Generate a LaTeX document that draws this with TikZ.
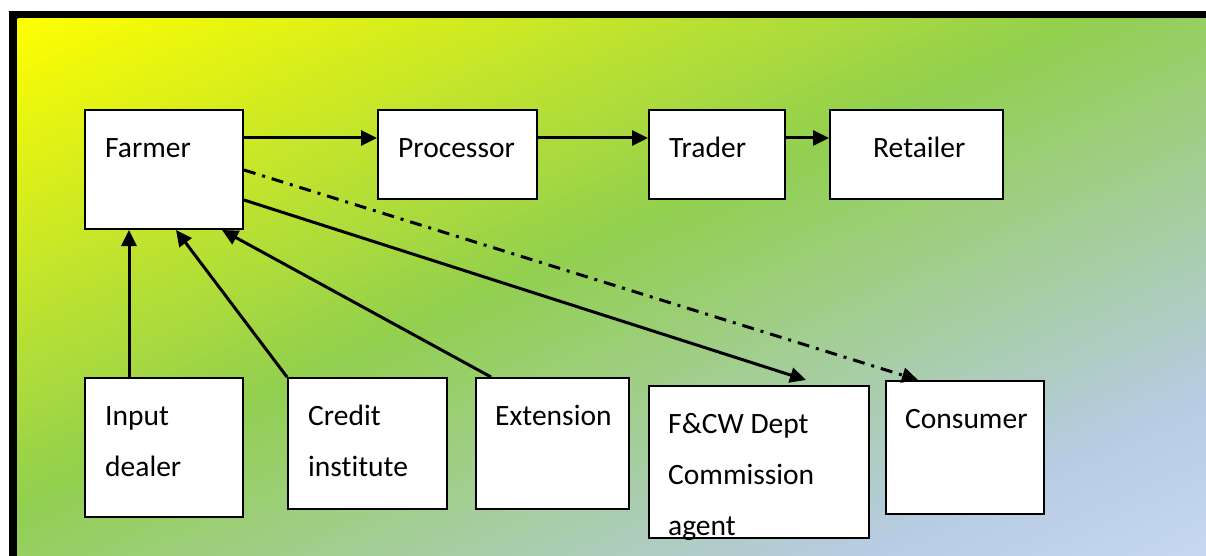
\documentclass[tikz,border=0pt]{standalone}
\usepackage{fontspec}
\setmainfont{Carlito}[Ligatures=NoCommon]
\usetikzlibrary{arrows.meta}
\tikzset{
  box/.style={draw=black, fill=white, line width=2pt, inner sep=0pt, anchor=north west},
  lbl/.style={anchor=base west, inner sep=0pt, align=left, font=\fontsize{29.5}{51}\selectfont},
  conn/.style={line width=3pt, -{Triangle[length=16pt,width=15pt]}},
  dashdotline/.style={conn, dash pattern=on 12pt off 7pt on 3pt off 7pt},
}
% piecewise-linear colour channel: stops at t=0, .45, .85, 1
\newcommand{\gradchan}[6]{% #1 macro, #2 t, #3..#6 values at stops
  \pgfmathtruncatemacro#1{(#2<0.45) ? (#3+(#4-#3)*#2/0.45) : ((#2<0.85) ? (#4+(#5-#4)*(#2-0.45)/0.4) : (#5+(#6-#5)*(#2-0.85)/0.15))}}
\begin{document}
\begin{tikzpicture}[x=1pt,y=-1pt]
\useasboundingbox (0,0) rectangle (1206,556);
\fill[white] (0,0) rectangle (1206,556);
\fill[black] (9,11) rectangle (1206,556);
% diagonal gradient background
\begin{scope}[shift={(17,19)}, x=1189pt, y=-537pt]
  \clip (0,0) rectangle (1,1);
  \foreach \i in {0,...,160} {
    \pgfmathsetmacro\tt{\i/160}
    \pgfmathsetmacro\ss{2*\tt}
    \gradchan{\rr}{\tt}{255}{146}{184}{198}
    \gradchan{\gg}{\tt}{255}{208}{204}{217}
    \gradchan{\bb}{\tt}{0}{80}{228}{240}
    \definecolor{cur}{RGB}{\rr,\gg,\bb}
    \fill[cur] (\ss+1,-1) -- (3,-1) -- (3,3) -- (-1,3) -- (-1,\ss+1) -- cycle;
  }
\end{scope}
% boxes
\node[box, minimum width=158pt, minimum height=119pt] (farmer) at (84,109) {};
\node[box, minimum width=159pt, minimum height=89pt] (processor) at (377,109) {};
\node[box, minimum width=136pt, minimum height=89pt] (trader) at (648,109) {};
\node[box, minimum width=173pt, minimum height=89pt] (retailer) at (829,109) {};
\node[box, minimum width=158pt, minimum height=139pt] (input) at (84,377) {};
\node[box, minimum width=159pt, minimum height=131pt] (credit) at (287,377) {};
\node[box, minimum width=153pt, minimum height=131pt] (extension) at (475,377) {};
\node[box, minimum width=220pt, minimum height=152pt] (fcw) at (648,385) {};
\node[box, minimum width=158pt, minimum height=133pt] (consumer) at (885,380) {};
% labels
\node[lbl] (farmer-t) at (105,158) {Farmer};
\node[lbl] (processor-t) at (398,158) {Processor};
\node[lbl] (trader-t) at (669,158) {Trader};
\node[lbl] (retailer-t) at (873,158) {Retailer};
\node[lbl] (input-t) at (105,476) {Input\\dealer};
\node[lbl] (credit-t) at (308,476) {Credit\\institute};
\node[lbl] (extension-t) at (495,425) {Extension};
\node[lbl] (fcw-t) at (668,535) {F\&CW Dept\\Commission\\agent};
\node[lbl] (consumer-t) at (905,428) {Consumer};
% connectors
\draw[conn] ([yshift=-29pt]farmer.north east) -- ([yshift=-29pt]processor.north west);
\draw[conn] ([yshift=-29pt]processor.north east) -- ([yshift=-29pt]trader.north west);
\draw[conn] ([yshift=-29pt]trader.north east) -- ([yshift=-29pt]retailer.north west);
\draw[conn] ([xshift=45pt]input.north west) -- ([xshift=45pt]farmer.south west);
\draw[conn] (credit.north west) -- ([xshift=92pt]farmer.south west);
\draw[conn] ([xshift=16pt]extension.north west) -- ([xshift=138pt]farmer.south west);
\draw[conn] ([yshift=30pt]farmer.south east) -- ([xshift=158pt,yshift=5pt]fcw.north west);
\draw[dashdotline] ([yshift=-61pt]farmer.north east) -- ([xshift=33pt]consumer.north west);
\end{tikzpicture}
\end{document}
